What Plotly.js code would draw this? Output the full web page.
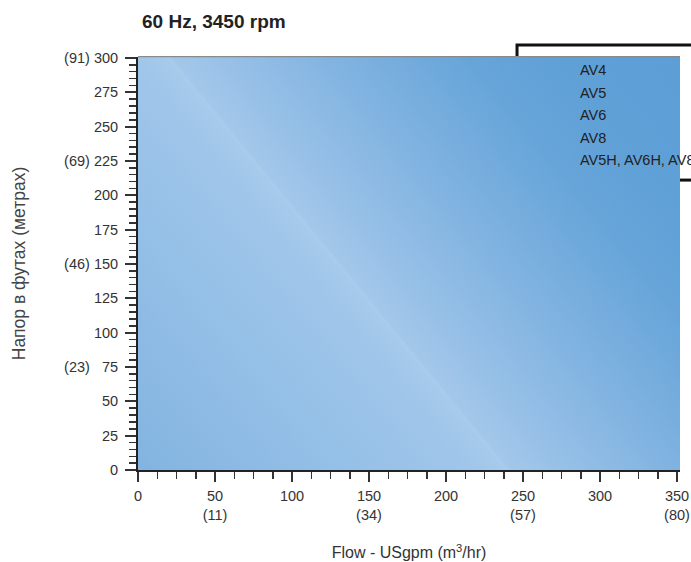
<!DOCTYPE html>
<html>
<head>
<meta charset="utf-8">
<script src="https://cdn.plot.ly/plotly-3.0.1.min.js"></script>
<style>
html,body{margin:0;padding:0;background:#fff;}
#chart{width:691px;height:562px;}
</style>
</head>
<body>
<div id="chart"></div>
<script>
// ---- data ----
const chartTitle = '60 Hz, 3450 rpm';
const xTitle = 'Flow - USgpm (m<sup>3</sup>/hr)';
const yTitle = 'Напор в футах (метрах)';
const xTickVals = [0, 50, 100, 150, 200, 250, 300, 350];
const xTickText = ['0', '50<br>(11)', '100', '150<br>(34)', '200', '250<br>(57)', '300', '350<br>(80)'];
const yTickVals = [0, 25, 50, 75, 100, 125, 150, 175, 200, 225, 250, 275, 300];
const yTickText = ['0', '25', '50', '(23)\u2007\u00a075', '100', '125', '(46) 150', '175', '200', '(69) 225', '250', '275', '(91) 300'];
const seriesNames = ['AV4', 'AV5', 'AV6', 'AV8', 'AV5H, AV6H, AV8H'];
const seriesX = [[], [], [], [], []];
const seriesY = [[], [], [], [], []];

// ---- gradient background image for the plot area ----
const W = 542, H = 413;
function makeBg() {
  const c = document.createElement('canvas');
  c.width = W; c.height = H;
  const ctx = c.getContext('2d');
  // crest line of the gloss runs from (30,0) to (369,413)
  const p0 = [30, 0];
  const v = [339, 413];
  const len = Math.hypot(v[0], v[1]);
  const n = [v[1] / len, -v[0] / len];
  const dMin = -290, dMax = 400;
  const g = ctx.createLinearGradient(p0[0] + n[0] * dMin, p0[1] + n[1] * dMin,
                                     p0[0] + n[0] * dMax, p0[1] + n[1] * dMax);
  const stops = [
    [-290, '#82b3e0'], [-150, '#92bee6'], [-25, '#a0c6ea'], [-2, '#a6caeb'],
    [0, '#a9ccec'], [3, '#a3c7ea'], [70, '#90bce5'], [150, '#7bb0df'],
    [230, '#67a5d9'], [300, '#5fa0d7'], [400, '#5c9ed6']
  ];
  stops.forEach(s => g.addColorStop((s[0] - dMin) / (dMax - dMin), s[1]));
  ctx.fillStyle = g;
  ctx.fillRect(0, 0, W, H);
  return c.toDataURL('image/png');
}

const regular = '"Liberation Sans", Arial, Helvetica, sans-serif';

const traces = seriesNames.map((name, i) => ({
  type: 'scatter', mode: 'lines', name: name,
  x: seriesX[i], y: seriesY[i], showlegend: false, hoverinfo: 'skip'
}));

const annotations = seriesNames.map((name, i) => ({
  xref: 'paper', yref: 'paper', x: 0.8118, y: 0.9685 - i * 0.0547,
  xanchor: 'left', yanchor: 'middle', showarrow: false, text: name,
  font: {family: regular, size: 14.5, color: '#222'}
}));

const layout = {
  width: 691, height: 562,
  margin: {l: 138, r: 11, t: 57, b: 92, pad: 0},
  paper_bgcolor: '#ffffff',
  plot_bgcolor: 'rgba(0,0,0,0)',
  showlegend: false,
  title: {
    text: '<b>' + chartTitle + '</b>',
    font: {family: regular, size: 19, color: '#222'},
    xref: 'container', yref: 'container', x: 0.2055, y: 0.9626,
    xanchor: 'left', yanchor: 'middle'
  },
  xaxis: {
    range: [0, 351.95], fixedrange: true,
    tickmode: 'array', tickvals: xTickVals, ticktext: xTickText,
    ticks: 'outside', ticklen: 10, tickwidth: 1.8, tickcolor: '#333',
    minor: {dtick: 12.5, tick0: 0, ticks: 'outside', ticklen: 7, tickwidth: 1.5, tickcolor: '#333'},
    showline: true, linecolor: '#222', linewidth: 2,
    showgrid: false, zeroline: false,
    tickfont: {family: regular, size: 14.5, color: '#333'},
    ticklabelstandoff: 2,
    title: {text: xTitle, font: {family: regular, size: 16, color: '#333'}, standoff: 25},
    automargin: false
  },
  yaxis: {
    range: [0, 300.7], fixedrange: true,
    tickmode: 'array', tickvals: yTickVals, ticktext: yTickText,
    ticks: 'outside', ticklen: 11, tickwidth: 1.8, tickcolor: '#333',
    minor: {dtick: 5, tick0: 0, ticks: 'outside', ticklen: 7, tickwidth: 1.5, tickcolor: '#333'},
    showline: true, linecolor: '#222', linewidth: 2,
    showgrid: false, zeroline: false,
    tickfont: {family: regular, size: 14.5, color: '#333'},
    ticklabelstandoff: 4,
    title: {text: yTitle, font: {family: regular, size: 17.5, color: '#444'}, standoff: 34},
    automargin: false
  },
  images: [{
    source: makeBg(), xref: 'paper', yref: 'paper', x: 0, y: 1,
    sizex: 1, sizey: 1, sizing: 'stretch', xanchor: 'left', yanchor: 'top', layer: 'below'
  }],
  shapes: [
    {type: 'line', xref: 'paper', yref: 'paper', x0: 0, x1: 1, y0: 1.001, y1: 1.001,
     line: {color: '#8a8a8a', width: 1.2}},
    {type: 'path', xref: 'paper', yref: 'paper', layer: 'below',
     path: 'M0.6993,1 L0.6993,1.029 L1.05,1.029', line: {color: '#111', width: 3}},
    {type: 'path', xref: 'paper', yref: 'paper', layer: 'below',
     path: 'M1.0,0.702 L1.05,0.702', line: {color: '#111', width: 3}}
  ],
  annotations: annotations
};

Plotly.newPlot('chart', traces, layout, {staticPlot: true, displayModeBar: false});
</script>
</body>
</html>
